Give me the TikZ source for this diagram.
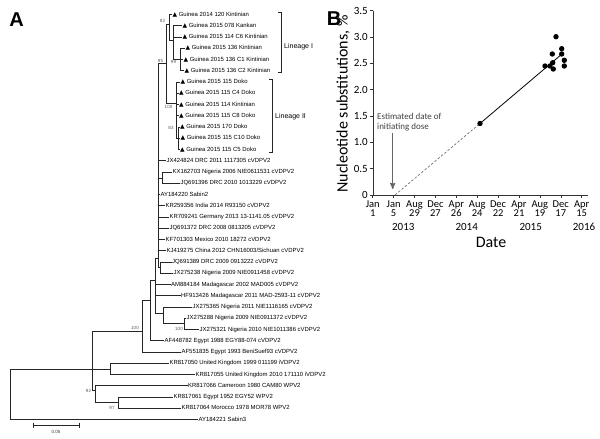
\documentclass[tikz,border=0pt]{standalone}
\usepackage{fontspec}
\setmainfont{Liberation Sans}
\newfontfamily\calibri{Carlito}
\newfontfamily\symfont{DejaVu Sans}
\usetikzlibrary{arrows}

\newcommand{\tri}{{\symfont ▲}\ }

\begin{document}
\begin{tikzpicture}[x=1pt,y=-1pt,>=stealth',
	leaf/.style={anchor=west,inner sep=0.4pt,font=\fontsize{5.95}{6}\selectfont,
		text height=4.2pt,text depth=1.1pt},
	boot/.style={inner sep=0pt,text=black!65,font=\fontsize{4.5}{5}\selectfont},
	every edge/.style={draw=black!85,line width=0.55pt,
		to path={(\tikztostart) |- (\tikztotarget)}},
	panel/.style={font=\bfseries\fontsize{20}{20}\selectfont,inner sep=0pt},
	xlab/.style={anchor=north,align=center,inner sep=0pt,
		font=\calibri\fontsize{10.5}{9.3}\selectfont},
	ylab/.style={anchor=east,inner sep=0pt,font=\calibri\fontsize{11}{11}\selectfont},
	title/.style={inner sep=0pt,font=\calibri\fontsize{16}{16}\selectfont}]

	\useasboundingbox (0,0) rectangle (600,439);

	% panel A: tree
	\node[panel] (labA) at (16.5,20) {A};

	\coordinate (root) at (10,395);
	\coordinate (nIn) at (92,369.5);
	\coordinate (nUK) at (110,369);
	\coordinate (n92) at (95,390);
	\coordinate (n97) at (118,402.6);
	\coordinate (n100b) at (142,331);
	\coordinate (n150) at (150,300);
	\coordinate (n155) at (155.5,280);
	\coordinate (n163) at (163.3,313);
	\coordinate (n184) at (184.3,323.5);
	\coordinate (nS) at (158.3,258);
	\coordinate (nK) at (162.7,178);
	\coordinate (nJ) at (160.7,267.5);
	\coordinate (n95) at (166,63);
	\coordinate (n82) at (169.5,24);
	\coordinate (nX) at (173,40);
	\coordinate (n99) at (180.5,59.5);
	\coordinate (n100) at (176.5,103);
	\coordinate (n83) at (178,138);

	\node[leaf] (l1) at (172,14.5) {\tri Guinea 2014 120 Kintinian};
	\node[leaf] (l2) at (182,25.75) {\tri Guinea 2015 078 Kankan};
	\node[leaf] (l3) at (182,37) {\tri Guinea 2015 114 C6 Kintinian};
	\node[leaf] (l4) at (185,48.25) {\tri Guinea 2015 136 Kintinian};
	\node[leaf] (l5) at (183,59.5) {\tri Guinea 2015 136 C1 Kintinian};
	\node[leaf] (l6) at (184,70.75) {\tri Guinea 2015 136 C2 Kintinian};
	\node[leaf] (l7) at (180,82) {\tri Guinea 2015 115 Doko};
	\node[leaf] (l8) at (178.5,93.25) {\tri Guinea 2015 115 C4 Doko};
	\node[leaf] (l9) at (178.5,104.5) {\tri Guinea 2015 114 Kintinian};
	\node[leaf] (l10) at (178.5,115.75) {\tri Guinea 2015 115 C8 Doko};
	\node[leaf] (l11) at (179.5,127) {\tri Guinea 2015 170 Doko};
	\node[leaf] (l12) at (180,138.25) {\tri Guinea 2015 115 C10 Doko};
	\node[leaf] (l13) at (179.5,149.5) {\tri Guinea 2015 115 C5 Doko};
	\node[leaf] (l14) at (166,160.75) {JX424824 DRC 2011 1117305 cVDPV2};
	\node[leaf] (l15) at (172,172) {KX162703 Nigeria 2006 NIE0611531 cVDPV2};
	\node[leaf] (l16) at (180,183.25) {JQ691396 DRC 2010 1013229 cVDPV2};
	\node[leaf] (l17) at (160,194.5) {AY184220 Sabin2};
	\node[leaf] (l18) at (165,205.75) {KR259356 India 2014 R93150 cVDPV2};
	\node[leaf] (l19) at (169,217) {KR709241 Germany 2013 13-1141.05 cVDPV2};
	\node[leaf] (l20) at (169,228.25) {JQ691372 DRC 2008 0813205 cVDPV2};
	\node[leaf] (l21) at (165,239.5) {KF701303 Mexico 2010 18272 cVDPV2};
	\node[leaf] (l22) at (166,250.75) {KJ419275 China 2012 CHN16003/Sichuan cVDPV2};
	\node[leaf] (l23) at (171.5,262) {JQ691389 DRC 2009 0913222 cVDPV2};
	\node[leaf] (l24) at (173,273.25) {JX275238 Nigeria 2009 NIE0911458 cVDPV2};
	\node[leaf] (l25) at (170.5,284.5) {AM884184 Madagascar 2002 MAD005 cVDPV2};
	\node[leaf] (l26) at (180.5,295.75) {HF913426 Madagascar 2011 MAD-2593-11 cVDPV2};
	\node[leaf] (l27) at (192,307) {JX275365 Nigeria 2011 NIE1116165 cVDPV2};
	\node[leaf] (l28) at (186,318.25) {JX275288 Nigeria 2009 NIE0911372 cVDPV2};
	\node[leaf] (l29) at (199,329.5) {JX275321 Nigeria 2010 NIE1011386 cVDPV2};
	\node[leaf] (l30) at (164,340.75) {AF448782 Egypt 1988 EGY88-074 cVDPV2};
	\node[leaf] (l31) at (181,352) {AF551835 Egypt 1993 BeniSuef93 cVDPV2};
	\node[leaf] (l32) at (169,363.25) {KR817050 United Kingdom 1999 011199 iVDPV2};
	\node[leaf] (l33) at (195,374.5) {KR817055 United Kingdom 2010 171110 iVDPV2};
	\node[leaf] (l34) at (187.5,385.75) {KR817066 Cameroon 1980 CAM80 WPV2};
	\node[leaf] (l35) at (173,397) {KR817061 Egypt 1952 EGY52 WPV2};
	\node[leaf] (l36) at (181,408.25) {KR817064 Morocco 1978 MOR78 WPV2};
	\node[leaf] (l37) at (198,419.5) {AY184221 Sabin3};

	\path
	(root) edge (nIn)
	(root) edge (l37)
	(nIn) edge (n100b)
	(nIn) edge (nUK)
	(nIn) edge (n92)
	(nUK) edge (l32)
	(nUK) edge (l33)
	(n92) edge (l34)
	(n92) edge (n97)
	(n97) edge (l35)
	(n97) edge (l36)
	(n100b) edge (n150)
	(n100b) edge (l31)
	(n150) edge (n155)
	(n150) edge (l30)
	(n155) edge (nS)
	(n155) edge (l25)
	(n155) edge (l26)
	(n155) edge (n163)
	(n163) edge (l27)
	(n163) edge (n184)
	(n184) edge (l28)
	(n184) edge (l29)
	(nS) edge (n95)
	(nS) edge (l14)
	(nS) edge (nK)
	(nS) edge (l17)
	(nS) edge (l18)
	(nS) edge (l19)
	(nS) edge (l20)
	(nS) edge (l21)
	(nS) edge (l22)
	(nS) edge (nJ)
	(nK) edge (l15)
	(nK) edge (l16)
	(nJ) edge (l23)
	(nJ) edge (l24)
	(n95) edge (n82)
	(n95) edge (n100)
	(n82) edge (l1)
	(n82) edge (nX)
	(nX) edge (l2)
	(nX) edge (l3)
	(nX) edge (n99)
	(n99) edge (l4)
	(n99) edge (l5)
	(n99) edge (l6)
	(n100) edge (l7)
	(n100) edge (l8)
	(n100) edge (l9)
	(n100) edge (l10)
	(n100) edge (n83)
	(n83) edge (l11)
	(n83) edge (l12)
	(n83) edge (l13);

	% bootstrap values
	\node[boot] (b82) at (162.5,21) {82};
	\node[boot] (b95) at (160.5,61) {95};
	\node[boot] (b99) at (173.5,61.5) {99};
	\node[boot] (b100a) at (168.5,107) {100};
	\node[boot] (b83) at (171,128) {83};
	\node[boot] (b100b) at (135,328) {100};
	\node[boot] (b100c) at (179,329) {100};
	\node[boot] (b92) at (88.5,390.5) {92};
	\node[boot] (b97) at (112,407.5) {97};

	% lineages
	\draw[black!85,line width=0.55pt] (278,12.7) -- (281.5,12.7) -- (281.5,72.7) -- (278,72.7);
	\node[anchor=west,inner sep=0pt,font=\fontsize{7}{7}\selectfont] (linI) at (284,46.7) {Lineage I};
	\draw[black!85,line width=0.55pt] (269,79) -- (272.5,79) -- (272.5,152.5) -- (269,152.5);
	\node[anchor=west,inner sep=0pt,font=\fontsize{7}{7}\selectfont] (linII) at (275,116.7) {Lineage II};

	% scale bar
	\draw[black!85,line width=0.55pt] (33,425) -- (79,425) (33,422.5) -- (33,427.5) (79,422.5) -- (79,427.5);
	\node[boot,text=black!80] (scl) at (56,432) {0.05};

	% panel B: plot
	\node[panel] (labB) at (334,18.3) {B};

	\draw[black!80,line width=0.6pt] (373,10.7) -- (373,195) -- (588,195);
	\foreach \v/\t in {0/0,0.5/0.5,1/1.0,1.5/1.5,2/2.0,2.5/2.5,3/3.0,3.5/3.5} {
		\draw[black!80,line width=0.6pt] (370,{195-52.66*\v}) -- (373,{195-52.66*\v});
		\node[ylab] at (368,{195-52.66*\v}) {\t};
	}
	\foreach \m/\d [count=\i from 0] in {Jan/1,Jan/5,Aug/29,Dec/27,Apr/26,Aug/24,Dec/22,Apr/21,Aug/19,Dec/17,Apr/15} {
		\draw[black!80,line width=0.6pt] ({372.7+20.9*\i},195) -- ({372.7+20.9*\i},198);
		\node[xlab] at ({372.7+20.9*\i},200.5) {\m\\\d};
	}
	\node[title,font=\calibri\fontsize{11}{11}\selectfont] (y13) at (403.3,227) {2013};
	\node[title,font=\calibri\fontsize{11}{11}\selectfont] (y14) at (466.7,227) {2014};
	\node[title,font=\calibri\fontsize{11}{11}\selectfont] (y15) at (530.7,227) {2015};
	\node[title,font=\calibri\fontsize{11}{11}\selectfont] (y16) at (584,227) {2016};
	\node[title] (xt) at (491,242) {Date};
	\node[title,rotate=90] (yt) at (343,104) {Nucleotide substitutions, \%};

	\draw[black!55,line width=0.7pt,dash pattern=on 2.5pt off 1.8pt] (395,195) -- (480,123.5);
	\draw[black,line width=0.8pt] (480,123.5) -- (562,54);
	\foreach \px/\py in {480/123.5,545/66,550/66,552.7/62.7,552.3/54,553.3/69,556/36.7,561.7/48.7,561.7/54,564.3/60.3,564.3/66}
		\fill (\px,\py) circle (2.7pt);

	\node[anchor=west,align=left,inner sep=0pt,text=black!75,
		font=\calibri\fontsize{9}{10}\selectfont] (note) at (377,122.5) {Estimated date of\\initiating dose};
	\draw[->,black!60,line width=1.2pt] (392.7,133) -- (392.7,189);
\end{tikzpicture}
\end{document}
